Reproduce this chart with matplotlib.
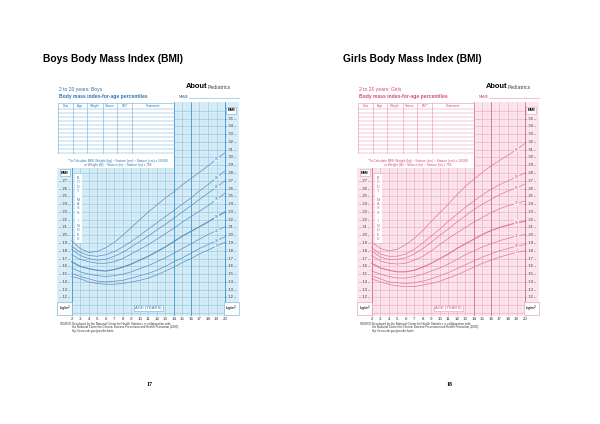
import numpy as np
import matplotlib.pyplot as plt
from matplotlib.patches import Rectangle

plt.rcParams['font.family'] = ['Liberation Sans', 'DejaVu Sans']

# ---- data (BMI percentiles) ----
ages = list(range(2, 21))
pct_names = ['5', '10', '25', '50', '75', '85', '90', '95']

boys_p5 = [14.7, 14.4, 14.0, 13.8, 13.7, 13.7, 13.8, 14.0, 14.2, 14.5, 14.9, 15.4, 15.9, 16.5, 17.0, 17.6, 18.1, 18.6, 19.1]
boys_p10 = [15.1, 14.7, 14.4, 14.1, 14.0, 14.1, 14.2, 14.5, 14.8, 15.1, 15.5, 16.0, 16.6, 17.1, 17.7, 18.3, 18.8, 19.3, 19.8]
boys_p25 = [15.8, 15.3, 15.0, 14.8, 14.7, 14.8, 15.0, 15.3, 15.7, 16.1, 16.6, 17.1, 17.7, 18.3, 18.9, 19.5, 20.1, 20.6, 21.1]
boys_p50 = [16.6, 16.0, 15.7, 15.5, 15.4, 15.6, 15.9, 16.3, 16.8, 17.3, 17.9, 18.5, 19.2, 19.9, 20.5, 21.1, 21.7, 22.4, 23.0]
boys_p75 = [17.5, 16.9, 16.6, 16.4, 16.4, 16.6, 17.0, 17.6, 18.2, 18.8, 19.5, 20.2, 20.9, 21.7, 22.4, 23.1, 23.8, 24.6, 25.4]
boys_p85 = [18.2, 17.4, 17.0, 16.8, 16.9, 17.3, 17.8, 18.5, 19.2, 19.9, 20.7, 21.4, 22.2, 23.0, 23.8, 24.6, 25.4, 26.2, 27.0]
boys_p90 = [18.6, 17.8, 17.4, 17.3, 17.5, 17.9, 18.5, 19.2, 20.0, 20.8, 21.6, 22.4, 23.2, 24.0, 24.8, 25.7, 26.5, 27.4, 28.3]
boys_p95 = [19.3, 18.3, 17.8, 17.9, 18.4, 19.1, 20.0, 21.0, 22.0, 23.0, 23.9, 24.8, 25.6, 26.5, 27.3, 28.1, 28.9, 29.8, 30.6]

girls_p5 = [14.4, 14.0, 13.7, 13.5, 13.4, 13.4, 13.6, 13.8, 14.1, 14.5, 14.9, 15.4, 15.9, 16.4, 16.8, 17.2, 17.5, 17.8, 18.0]
girls_p10 = [14.8, 14.4, 14.0, 13.9, 13.8, 13.9, 14.1, 14.4, 14.8, 15.2, 15.7, 16.2, 16.7, 17.2, 17.6, 18.0, 18.3, 18.6, 18.8]
girls_p25 = [15.4, 15.0, 14.7, 14.5, 14.5, 14.7, 15.0, 15.4, 15.8, 16.3, 16.9, 17.5, 18.0, 18.5, 18.9, 19.3, 19.6, 19.9, 20.1]
girls_p50 = [16.4, 15.8, 15.5, 15.3, 15.3, 15.5, 15.9, 16.4, 17.0, 17.6, 18.3, 18.9, 19.5, 20.1, 20.6, 21.0, 21.3, 21.6, 21.8]
girls_p75 = [17.4, 16.7, 16.4, 16.3, 16.4, 16.8, 17.3, 18.0, 18.8, 19.6, 20.3, 21.0, 21.7, 22.3, 22.9, 23.4, 23.8, 24.1, 24.4]
girls_p85 = [18.0, 17.2, 16.9, 16.9, 17.1, 17.6, 18.3, 19.1, 20.0, 20.8, 21.7, 22.5, 23.3, 24.0, 24.6, 25.2, 25.7, 26.1, 26.6]
girls_p90 = [18.4, 17.6, 17.3, 17.3, 17.6, 18.2, 19.0, 19.9, 20.8, 21.8, 22.7, 23.6, 24.4, 25.2, 25.9, 26.5, 27.0, 27.5, 28.0]
girls_p95 = [19.1, 18.3, 18.0, 18.2, 18.8, 19.6, 20.6, 21.8, 22.9, 24.0, 25.2, 26.3, 27.2, 28.1, 28.9, 29.6, 30.3, 31.0, 31.8]

bmi_left = list(range(12, 28))
bmi_right = list(range(12, 36))
table_cols = ['Date', 'Age', 'Weight', 'Stature', 'BMI*', 'Comments']
source_lines = ['Developed by the National Center for Health Statistics in collaboration with',
                'the National Center for Chronic Disease Prevention and Health Promotion (2000).',
                'http://www.cdc.gov/growthcharts']

boys = [boys_p5, boys_p10, boys_p25, boys_p50, boys_p75, boys_p85, boys_p90, boys_p95]
girls = [girls_p5, girls_p10, girls_p25, girls_p50, girls_p75, girls_p85, girls_p90, girls_p95]

blue = dict(bg='#d8edf7', minor='#bfe0ef', major='#8fc7e3', dark='#4f9acb',
            curve='#5a8fc2', text='#2f72b0', line='#6aaed8')
pink = dict(bg='#fce6ee', minor='#f6cfdc', major='#eea8c0', dark='#cf7596',
            curve='#e3759d', text='#d5487e', line='#e993b2')

W, H = 600, 424
fig = plt.figure(figsize=(6, 4.24), dpi=100)


def px_axes(x0, y0, x1, y1):
    return fig.add_axes([x0 / W, 1 - y1 / H, (x1 - x0) / W, (y1 - y0) / H])


def draw_chart(dx, curves, th):
    ax = px_axes(57 + dx, 102, 239 + dx, 316)
    ax.set_xlim(0.275, 21.64)
    ax.set_ylim(9.62, 37.13)
    ax.set_facecolor(th['bg'])
    for s in ax.spines.values():
        s.set_visible(False)
    ax.set_yticks([])
    ax.set_xticks(ages)
    ax.tick_params(axis='x', length=0, pad=1.0, labelsize=3.2, labelcolor='#333333')

    # grid
    ax.hlines(np.arange(10, 36.01, 0.5), 2, 20, color=th['minor'], lw=0.25, zorder=1)
    ax.vlines(np.arange(2.5, 20, 1), 9.62, 37.13, color=th['minor'], lw=0.25, zorder=1)
    ax.hlines(range(10, 37), 2, 20, color=th['major'], lw=0.4, zorder=1)
    ax.vlines(ages, 9.62, 37.13, color=th['major'], lw=0.45, zorder=1)
    ax.vlines([2, 14, 16, 20], 9.62, 37.13, color=th['dark'], lw=0.65, zorder=1)

    # percentile curves
    for name, vals in zip(pct_names, curves):
        lw = 0.85 if name == '50' else 0.5
        ax.plot(ages, vals, color=th['curve'], lw=lw, zorder=4)
        ax.text(19, vals[ages.index(19)], name, fontsize=2.4, color=th['text'],
                ha='center', va='center', zorder=5,
                bbox=dict(boxstyle='square,pad=0.1', fc=th['bg'], ec='none'))

    # BMI scale labels
    for v in bmi_left:
        ax.text(1.2, v, '– %d –' % v, fontsize=3, color='#333333', ha='center', va='center')
    for v in bmi_right:
        ax.text(20.7, v, '– %d –' % v, fontsize=3, color='#333333', ha='center', va='center')
    box = dict(boxstyle='square,pad=0.3', fc='white', ec=th['line'], lw=0.4)
    ax.text(1.2, 28.05, 'BMI', fontsize=3, fontweight='bold', ha='center', va='center', bbox=box)
    ax.text(20.75, 36.05, 'BMI', fontsize=3, fontweight='bold', ha='center', va='center', bbox=box)
    ax.text(1.2, 10.6, 'kg/m$^2$', fontsize=3, ha='center', va='center', bbox=box)
    ax.text(20.75, 10.6, 'kg/m$^2$', fontsize=3, ha='center', va='center', bbox=box)
    ax.text(11, 10.65, 'AGE (YEARS)', fontsize=3, color=th['text'], ha='center', va='center',
            bbox=box, zorder=5)
    return ax


draw_chart(0, boys, blue)
draw_chart(300, girls, pink)

# ---- page decoration in pixel coordinates ----
ov = fig.add_axes([0, 0, 1, 1], zorder=10)
ov.set_xlim(0, W)
ov.set_ylim(H, 0)
ov.axis('off')

for dx, th, who in [(0, blue, 'Boys'), (300, pink, 'Girls')]:
    ov.text(43 + dx, 59, '%s Body Mass Index (BMI)' % who, fontsize=7.4, fontweight='bold',
            va='center', ha='left')

    ov.text(59 + dx, 90, '2 to 20 years: %s' % who, fontsize=3.6, color=th['text'], va='center')
    ov.text(59 + dx, 96.5, 'Body mass index-for-age percentiles', fontsize=3.6,
            fontweight='bold', color=th['text'], va='center')
    ov.text(179 + dx, 96.5, 'NAME', fontsize=2.5, color=th['text'], va='center')
    ov.plot([189 + dx, 239 + dx], [98, 98], color=th['line'], lw=0.4)

    # logo
    ov.text(186 + dx, 87, 'About', fontsize=5.4, fontweight='bold', va='center')
    ov.text(208 + dx, 87.5, 'Pediatrics', fontsize=3.8, color='#444444', va='center')

    # record table
    ov.add_patch(Rectangle((57 + dx, 102), 117, 66, fc='white', ec='none'))
    cols = [58, 73, 87, 103, 117, 132, 174]
    for c in cols:
        ov.plot([c + dx, c + dx], [103, 153], color=th['line'], lw=0.4)
    for r in np.linspace(108.5, 153, 12):
        ov.plot([58 + dx, 174 + dx], [r, r], color=th['line'], lw=0.35)
    ov.plot([58 + dx, 174 + dx], [103, 103], color=th['line'], lw=0.4)
    for c0, c1, name in zip(cols[:-1], cols[1:], table_cols):
        ov.text((c0 + c1) / 2 + dx, 105.8, name, fontsize=2.2, color=th['text'],
                ha='center', va='center')
    ov.text(118 + dx, 161, '*To Calculate BMI: Weight (kg) ÷ Stature (cm) ÷ Stature (cm) x 10,000',
            fontsize=2.3, color=th['text'], ha='center', va='center')
    ov.text(118 + dx, 165, 'or Weight (lb) ÷ Stature (in) ÷ Stature (in) x 703',
            fontsize=2.3, color=th['text'], ha='center', va='center')

    # vertical "BODY MASS INDEX"
    ov.add_patch(Rectangle((75 + dx, 174), 6.5, 69, fc='white', ec='none'))
    letters = list('BODY') + [''] + list('MASS') + [''] + list('INDEX')
    for i, ch in enumerate(letters):
        ov.text(78.2 + dx, 178 + i * 4.35, ch, fontsize=2.6, color=th['text'],
                ha='center', va='center')

    # source note
    ov.text(60 + dx, 324, 'SOURCE:', fontsize=2.1, color='#333333', va='center')
    for i, line in enumerate(source_lines):
        ov.text(72 + dx, 324 + i * 3.4, line, fontsize=2.1, color='#333333', va='center')

ov.text(150, 385, '17', fontsize=4.2, fontweight='bold', family='Liberation Serif',
        ha='center', va='center')
ov.text(450, 385, '18', fontsize=4.2, fontweight='bold', family='Liberation Serif',
        ha='center', va='center')

fig.savefig('out.png', dpi=100, facecolor='white')
